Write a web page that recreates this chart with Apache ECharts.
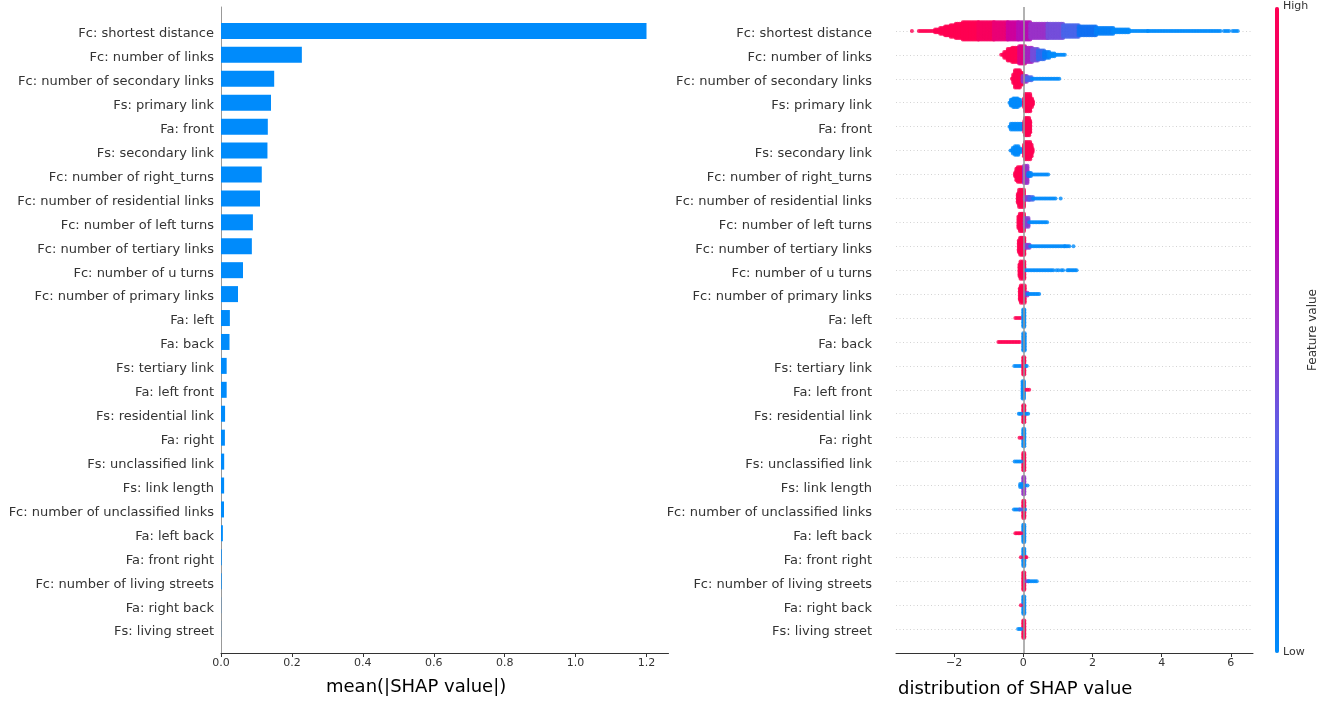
<!DOCTYPE html>
<html>
<head>
<meta charset="utf-8">
<title>SHAP summary</title>
<script src="https://cdn.jsdelivr.net/npm/echarts@6/dist/echarts.min.js"></script>
<style>
  html, body { margin: 0; padding: 0; background: #fff; }
  #main { width: 1324px; height: 701px; }
</style>
</head>
<body>
<div id="main"></div>
<script>
// features, most important first
var featureNames = [
    'Fc: shortest distance', 'Fc: number of links', 'Fc: number of secondary links',
    'Fs: primary link', 'Fa: front', 'Fs: secondary link', 'Fc: number of right_turns',
    'Fc: number of residential links', 'Fc: number of left turns', 'Fc: number of tertiary links',
    'Fc: number of u turns', 'Fc: number of primary links', 'Fa: left', 'Fa: back',
    'Fs: tertiary link', 'Fa: left front', 'Fs: residential link', 'Fa: right',
    'Fs: unclassified link', 'Fs: link length', 'Fc: number of unclassified links',
    'Fa: left back', 'Fa: front right', 'Fc: number of living streets', 'Fa: right back',
    'Fs: living street'
];
var meanAbsShap = [
    1.20, 0.228, 0.150, 0.141, 0.132, 0.131, 0.115, 0.110, 0.090, 0.087, 0.062, 0.048,
    0.025, 0.024, 0.016, 0.016, 0.0115, 0.011, 0.009, 0.0088, 0.0085, 0.0053,
    0.002, 0.0018, 0.0005, 0.0003
];
var barTicks = [0, 0.2, 0.4, 0.6, 0.8, 1.0, 1.2];
var swarmTicks = [-2, 0, 2, 4, 6];

// beeswarm outline, one list per feature:
// [shap from, shap to, half spread (rows), feature value 0=low..1=high]
var swShortestDistance = [
    [-3.22, -3.22, 0.08, 1], [-3.02, -2.55, 0.08, 1], [-2.55, -2.4, 0.13, 1],
    [-2.4, -2.26, 0.2, 1], [-2.26, -2.1, 0.27, 1], [-2.1, -1.95, 0.35, 1],
    [-1.95, -1.75, 0.4, 1], [-1.75, -1.3, 0.44, 1], [-1.3, -0.85, 0.45, 0.95],
    [-0.85, -0.45, 0.45, 0.85], [-0.45, -0.15, 0.44, 0.72], [-0.15, 0.2, 0.43, 0.62],
    [0.2, 0.7, 0.405, 0.5], [0.7, 1.15, 0.37, 0.4], [1.15, 1.6, 0.32, 0.3],
    [1.6, 2.1, 0.26, 0.18], [2.1, 2.6, 0.21, 0.08], [2.6, 3.05, 0.155, 0.02],
    [3.05, 3.6, 0.11, 0], [3.6, 5.7, 0.07, 0], [5.8, 5.95, 0.07, 0], [6.05, 6.2, 0.07, 0]
];
var swNumberOfLinks = [
    [-0.64, -0.55, 0.09, 1], [-0.55, -0.45, 0.2, 1], [-0.45, -0.32, 0.3, 1],
    [-0.32, -0.12, 0.39, 1], [-0.12, 0.05, 0.42, 0.8], [0.05, 0.25, 0.4, 0.55],
    [0.25, 0.42, 0.34, 0.4], [0.42, 0.6, 0.27, 0.25], [0.6, 0.75, 0.2, 0.1],
    [0.75, 0.9, 0.13, 0], [0.9, 1.2, 0.085, 0]
];
var swSecondaryLinks = [
    [-0.33, -0.29, 0.1, 1], [-0.29, -0.24, 0.28, 1], [-0.24, -0.1, 0.47, 1],
    [-0.1, -0.02, 0.3, 1], [-0.02, 0.1, 0.2, 0.5], [0.1, 0.24, 0.13, 0.3], [0.24, 1.04, 0.095, 0]
];
var swPrimaryLink = [
    [-0.4, -0.36, 0.1, 0], [-0.36, -0.29, 0.2, 0], [-0.29, -0.16, 0.28, 0],
    [-0.16, -0.09, 0.18, 0], [-0.09, -0.03, 0.1, 0],
    [0.02, 0.05, 0.28, 1], [0.05, 0.2, 0.44, 1], [0.2, 0.25, 0.26, 1], [0.25, 0.28, 0.12, 1]
];
var swFront = [
    [-0.4, -0.36, 0.1, 0], [-0.36, -0.03, 0.18, 0],
    [0.03, 0.05, 0.3, 1], [0.05, 0.17, 0.45, 1], [0.17, 0.2, 0.3, 1]
];
var swSecondaryLink = [
    [-0.37, -0.3, 0.1, 0], [-0.3, -0.24, 0.18, 0], [-0.24, -0.14, 0.28, 0],
    [-0.14, -0.06, 0.15, 0], [-0.06, -0.02, 0.08, 0],
    [0.02, 0.05, 0.3, 1], [0.05, 0.2, 0.45, 1], [0.2, 0.24, 0.3, 1], [0.24, 0.27, 0.12, 1]
];
var swRightTurns = [
    [-0.24, -0.2, 0.15, 1], [-0.2, -0.16, 0.32, 1], [-0.16, -0.04, 0.38, 1], [-0.04, 0.0, 0.3, 1],
    [0.02, 0.12, 0.44, 0.5], [0.14, 0.22, 0.15, 0.1], [0.22, 0.72, 0.095, 0]
];
var swResidentialLinks = [
    [-0.16, -0.12, 0.25, 1], [-0.12, 0.02, 0.43, 1], [0.04, 0.17, 0.15, 0.45],
    [0.17, 0.28, 0.12, 0.3], [0.28, 0.93, 0.095, 0], [1.08, 1.08, 0.07, 0]
];
var swLeftTurns = [
    [-0.14, -0.1, 0.3, 1], [-0.1, 0.02, 0.43, 1], [0.04, 0.15, 0.27, 0.45], [0.17, 0.69, 0.1, 0]
];
var swTertiaryLinks = [
    [-0.13, -0.09, 0.3, 1], [-0.09, 0.03, 0.47, 1], [0.05, 0.18, 0.15, 0.45],
    [0.2, 1.2, 0.1, 0], [1.2, 1.33, 0.07, 0], [1.45, 1.45, 0.07, 0]
];
var swUTurns = [
    [-0.11, -0.08, 0.3, 1], [-0.08, 0.03, 0.47, 1], [0.06, 0.87, 0.095, 0],
    [0.96, 1.02, 0.07, 0], [1.1, 1.15, 0.07, 0], [1.27, 1.34, 0.08, 0], [1.38, 1.54, 0.08, 0]
];
var swPrimaryLinks = [
    [-0.1, -0.07, 0.3, 1], [-0.07, 0.04, 0.45, 1], [0.06, 0.12, 0.12, 0.5], [0.12, 0.46, 0.1, 0]
];
var swLeft = [[-0.23, -0.08, 0.096, 1], [0.0, 0.03, 0.46, 0]];
var swBack = [[-0.72, -0.1, 0.096, 1], [0.0, 0.04, 0.46, 0]];
var swTertiaryLink = [[-0.26, -0.07, 0.096, 0], [0.0, 0.03, 0.46, 1], [0.07, 0.1, 0.085, 0]];
var swLeftFront = [[-0.02, 0.02, 0.45, 0], [0.07, 0.17, 0.096, 1]];
var swResidentialLink = [[0.0, 0.03, 0.45, 1], [-0.13, -0.06, 0.1, 0], [0.06, 0.14, 0.1, 0]];
var swRight = [[0.0, 0.03, 0.45, 0], [-0.11, -0.05, 0.085, 1]];
var swUnclassifiedLink = [[0.0, 0.03, 0.45, 1], [-0.25, -0.06, 0.096, 0]];
var swLinkLength = [[0.0, 0.03, 0.44, 0.5], [-0.09, -0.04, 0.12, 0], [0.06, 0.12, 0.1, 0]];
var swUnclassifiedLinks = [
    [0.0, 0.03, 0.45, 1], [-0.27, -0.1, 0.1, 0], [-0.1, -0.04, 0.1, 0.3], [0.05, 0.07, 0.085, 0]
];
var swLeftBack = [[0.0, 0.03, 0.45, 0], [-0.23, -0.06, 0.096, 1]];
var swFrontRight = [[0.0, 0.03, 0.45, 0], [-0.07, -0.05, 0.085, 1], [0.06, 0.09, 0.085, 1]];
var swLivingStreets = [[0.0, 0.03, 0.45, 1], [0.07, 0.15, 0.096, 0.45], [0.15, 0.39, 0.096, 0]];
var swRightBack = [[0.0, 0.03, 0.45, 0], [-0.07, -0.07, 0.07, 1]];
var swLivingStreet = [[0.0, 0.03, 0.45, 1], [-0.15, -0.06, 0.096, 0]];

var swarmRows = [
    swShortestDistance, swNumberOfLinks, swSecondaryLinks, swPrimaryLink, swFront,
    swSecondaryLink, swRightTurns, swResidentialLinks, swLeftTurns, swTertiaryLinks,
    swUTurns, swPrimaryLinks, swLeft, swBack, swTertiaryLink, swLeftFront,
    swResidentialLink, swRight, swUnclassifiedLink, swLinkLength, swUnclassifiedLinks,
    swLeftBack, swFrontRight, swLivingStreets, swRightBack, swLivingStreet
];

var nRows = featureNames.length;

// left panel: category axis padded with an empty slot at each end
var barCats = [' '].concat(featureNames.slice().reverse(), ['  ']);
var barData = ['-'].concat(meanAbsShap.slice().reverse(), ['-']);

// stack the dots of each band (dot pitch in shap units / row units)
var dx = 0.045, dy = 0.06, dotR = 0.084;
var swarmPoints = [];
swarmRows.forEach(function (bands, i) {
    var base = nRows - 1 - i;
    bands.forEach(function (b) {
        var m = Math.max(0, Math.round((b[2] - dotR) / dy));
        var n = Math.round((b[1] - b[0]) / dx) + 1;
        var step = n > 1 ? (b[1] - b[0]) / (n - 1) : 0;
        for (var k = 0; k < n; k++) {
            var x = b[0] + k * step;
            for (var j = -m; j <= m; j++) {
                swarmPoints.push([x, base + j * dy, b[3]]);
            }
        }
    });
});

// dotted row guides, none on the two padding ticks
var guideColors = [];
for (var g = 0; g < nRows + 2; g++) {
    guideColors.push(g === 0 || g === nRows + 1 ? 'rgba(0,0,0,0)' : '#c8c8c8');
}

var font = 'DejaVu Sans';
var minus = function (v) { return v < 0 ? '\u2212' + Math.abs(v) : String(v); };

var option = {
    animation: false,
    textStyle: { fontFamily: font },
    title: [
        {
            text: 'mean(|SHAP value|)', left: 326, top: 678, padding: 0,
            textStyle: { fontSize: 18, fontWeight: 'normal', color: '#000', fontFamily: font }
        },
        {
            text: 'distribution of SHAP value', left: 898, top: 680, padding: 0,
            textStyle: { fontSize: 18, fontWeight: 'normal', color: '#000', fontFamily: font }
        }
    ],
    grid: [
        { left: 221, right: 655.5, top: 7, bottom: 48 },
        { left: 896, right: 71, top: 7, bottom: 48 }
    ],
    xAxis: [
        {
            type: 'value', gridIndex: 0, min: 0, max: 1.262,
            axisLine: { show: true, onZero: false, lineStyle: { color: '#333', width: 1 } },
            axisTick: { show: true, length: 4, customValues: barTicks, lineStyle: { color: '#333' } },
            axisLabel: {
                customValues: barTicks, fontSize: 11, color: '#333', margin: 5,
                formatter: function (v) { return v.toFixed(1); }
            },
            splitLine: { show: false }
        },
        {
            type: 'value', gridIndex: 1, min: -3.68, max: 6.64,
            axisLine: { show: true, onZero: false, lineStyle: { color: '#333', width: 1 } },
            axisTick: { show: true, length: 4, customValues: swarmTicks, lineStyle: { color: '#333' } },
            axisLabel: { customValues: swarmTicks, fontSize: 11, color: '#333', margin: 5, formatter: minus },
            splitLine: { show: false }
        }
    ],
    yAxis: [
        {
            type: 'category', gridIndex: 0, data: barCats, boundaryGap: false,
            axisLine: { show: true, onZero: false, lineStyle: { color: '#999', width: 1 } },
            axisTick: { show: false },
            axisLabel: {
                interval: 0, fontSize: 13, color: '#333', margin: 7,
                verticalAlign: 'top', lineHeight: 6
            },
            splitLine: { show: false }
        },
        {
            type: 'value', gridIndex: 1, min: -1, max: nRows, interval: 1,
            axisLine: { show: false, onZero: false },
            axisTick: { show: false },
            axisLabel: {
                fontSize: 13, color: '#333', margin: 24, verticalAlign: 'top', lineHeight: 6,
                formatter: function (v) { return featureNames[nRows - 1 - v] || ''; }
            },
            splitLine: { show: true, lineStyle: { color: guideColors, width: 0.8, type: [1, 2.5] } }
        }
    ],
    visualMap: {
        type: 'continuous', seriesIndex: 2, dimension: 2, min: 0, max: 1,
        orient: 'vertical', left: 1275, top: 7, itemWidth: 4, itemHeight: 646,
        calculable: false, padding: 0, text: null,
        inRange: { color: ['#008bfb', '#0a72f3', '#5a62e8', '#9a32c8', '#c000ad', '#e8007a', '#ff0052'] }
    },
    series: [
        {
            type: 'bar', xAxisIndex: 0, yAxisIndex: 0, data: barData,
            barWidth: 16, itemStyle: { color: '#008bfb' }, silent: true
        },
        {
            // grey zero line behind the swarm
            type: 'line', xAxisIndex: 1, yAxisIndex: 1, data: [], z: 1, silent: true,
            markLine: {
                silent: true, symbol: 'none', label: { show: false },
                lineStyle: { color: '#999', width: 1.5, type: 'solid' },
                data: [{ xAxis: 0 }]
            }
        },
        {
            type: 'scatter', xAxisIndex: 1, yAxisIndex: 1, data: swarmPoints,
            symbolSize: 4, progressive: 0, z: 3, silent: true
        }
    ],
    graphic: [
        { type: 'text', left: 1283, top: 1, style: { text: 'High', fontSize: 11, fill: '#333', fontFamily: font } },
        { type: 'text', left: 1283, top: 647, style: { text: 'Low', fontSize: 11, fill: '#333', fontFamily: font } },
        {
            type: 'text', x: 1313, y: 330, rotation: Math.PI / 2,
            style: { text: 'Feature value', fontSize: 12, fill: '#333', fontFamily: font, align: 'center', verticalAlign: 'middle' }
        }
    ]
};

var myChart = echarts.init(document.getElementById('main'));
myChart.setOption(option);
</script>
</body>
</html>
